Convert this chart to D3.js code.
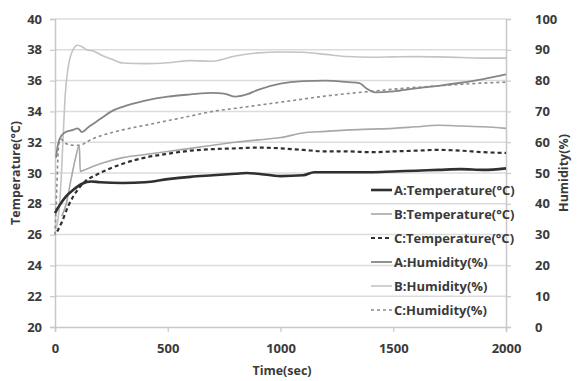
<!DOCTYPE html>
<html><head><meta charset="utf-8">
<script src="https://cdn.jsdelivr.net/npm/d3@7"></script>
<style>body{margin:0;background:#fff}svg{display:block}text{font-family:"Open Sans",Lato,sans-serif;font-weight:700;fill:#3a3a3a}</style>
</head><body><svg id="c" width="578" height="381"></svg>
<script>
// time (sec), value pairs
const aTempT = [0,20,50,80,120,160,200,300,400,500,600,700,800,850,900,1000,1100,1150,1300,1400,1500,1600,1700,1800,1900,2000];
const aTempV = [27.4,27.9,28.5,28.9,29.3,29.45,29.4,29.35,29.4,29.6,29.75,29.85,29.95,30.0,29.95,29.8,29.85,30.05,30.05,30.05,30.1,30.15,30.2,30.25,30.2,30.3];
const bTempT = [30,50,70,90,108,112,130,200,300,400,500,600,700,800,900,1000,1100,1200,1300,1400,1500,1600,1700,1800,1900,2000];
const bTempV = [27.2,28.0,29.5,30.9,31.8,30.1,30.2,30.6,31.0,31.2,31.4,31.6,31.8,32.0,32.15,32.3,32.6,32.7,32.8,32.85,32.9,33.0,33.1,33.05,33.0,32.9];
const cTempT = [10,30,60,100,130,200,300,400,500,600,700,800,900,1000,1100,1200,1300,1400,1500,1600,1700,1800,1900,2000];
const cTempV = [26.2,26.8,27.9,28.9,29.4,30.0,30.6,31.0,31.25,31.45,31.55,31.6,31.65,31.6,31.5,31.4,31.4,31.35,31.4,31.45,31.5,31.45,31.35,31.3];
const aHumT = [5,10,20,40,80,100,120,150,200,250,300,400,500,600,700,750,800,850,900,1000,1100,1200,1300,1350,1380,1420,1500,1600,1700,1800,1900,2000];
const aHumV = [55,58,61,63,64,64.5,63.3,65,67.5,70,71.5,73.5,74.8,75.5,76,75.8,74.8,75.5,77,79,79.8,80,79.5,79.2,77.5,76.2,76.5,77.5,78.3,79.3,80.5,82];
const bHumT = [5,15,25,35,45,60,80,100,120,140,170,200,250,300,400,500,600,700,800,900,1000,1100,1200,1300,1400,1500,1600,1700,1800,1900,2000];
const bHumV = [32,36,45,60,75,85,90,91.5,91,90,89.6,88.5,87,85.7,85.5,85.8,86.5,86.3,88,89,89.3,89.2,88.5,87.8,87.6,87.7,87.8,87.7,87.5,87.3,87.3];
const cHumT = [0,8,15,25,50,80,110,150,200,300,400,500,600,700,800,900,1000,1100,1200,1300,1400,1500,1600,1700,1800,1900,2000];
const cHumV = [30,45,58,61,59.5,59,59,60.5,62,64,65.5,67,68.5,70,71,72,73,74,75,75.8,76.5,77.2,77.8,78.3,78.8,79.2,79.5];

const xTicks = [0,500,1000,1500,2000];
const tempTicks = [20,22,24,26,28,30,32,34,36,38,40];
const humTicks = [0,10,20,30,40,50,60,70,80,90,100];
const legendLabels = ["A:Temperature(°C)","B:Temperature(°C)","C:Temperature(°C)","A:Humidity(%)","B:Humidity(%)","C:Humidity(%)"];

const svg = d3.select("#c");
const x = d3.scaleLinear().domain([0,2000]).range([55,506]);
const yT = d3.scaleLinear().domain([20,40]).range([327,19]);
const yH = d3.scaleLinear().domain([0,100]).range([327,19]);

// grid
svg.append("g").selectAll("line").data(tempTicks.slice(1)).join("line")
  .attr("x1",55).attr("x2",506).attr("y1",d=>yT(d)).attr("y2",d=>yT(d))
  .attr("stroke","#dcdcdc").attr("stroke-width",1.5);

// axes
const gl = svg.append("g").attr("transform","translate(55,0)")
  .call(d3.axisLeft(yT).tickValues(tempTicks).tickSize(5).tickPadding(8));
const gr = svg.append("g").attr("transform","translate(506,0)")
  .call(d3.axisRight(yH).tickValues(humTicks).tickSize(5).tickPadding(24));
const gb = svg.append("g").attr("transform","translate(0,327)")
  .call(d3.axisBottom(x).tickValues(xTicks).tickFormat(d3.format("d")).tickSize(5).tickPadding(12));
[gl,gr,gb].forEach(g=>{
  g.select(".domain").attr("stroke","#c8c8c8").attr("stroke-width",1.5);
  g.selectAll(".tick line").attr("stroke","#c8c8c8").attr("stroke-width",1.2);
  g.selectAll(".tick text").style("font-size","13px").style("font-family","'Open Sans',sans-serif").style("font-weight","700").attr("fill","#3a3a3a");
});

svg.append("text").attr("transform","translate(20,173) rotate(-90)").attr("text-anchor","middle").style("font-size","12.5px").text("Temperature(°C)");
svg.append("text").attr("transform","translate(568,173) rotate(-90)").attr("text-anchor","middle").style("font-size","12.5px").text("Humidity(%)");
svg.append("text").attr("x",282).attr("y",375).attr("text-anchor","middle").style("font-size","12.5px").text("Time(sec)");

const series = [
  {t:aTempT,v:aTempV,y:yT,color:"#303030",w:2.6,dash:null},
  {t:bTempT,v:bTempV,y:yT,color:"#a8a8a8",w:1.6,dash:null},
  {t:cTempT,v:cTempV,y:yT,color:"#303030",w:2.2,dash:"4,3"},
  {t:aHumT,v:aHumV,y:yH,color:"#858585",w:1.8,dash:null},
  {t:bHumT,v:bHumV,y:yH,color:"#c4c4c4",w:1.6,dash:null},
  {t:cHumT,v:cHumV,y:yH,color:"#8a8a8a",w:1.6,dash:"3,3"}
];
const drawOrder = [4,3,5,1,2,0];
drawOrder.forEach(i=>{
  const s = series[i];
  const pts = s.t.map((t,j)=>[t,s.v[j]]);
  const line = d3.line().x(d=>x(d[0])).y(d=>s.y(d[1])).curve(d3.curveMonotoneX);
  svg.append("path").attr("d",line(pts)).attr("fill","none").attr("stroke",s.color)
    .attr("stroke-width",s.w).attr("stroke-dasharray",s.dash).attr("stroke-linejoin","round");
});

// legend
const lg = svg.append("g");
legendLabels.forEach((lab,i)=>{
  const yy = 190 + i*24;
  const s = series[i];
  lg.append("line").attr("x1",371).attr("x2",392).attr("y1",yy).attr("y2",yy)
    .attr("stroke",s.color).attr("stroke-width",s.w).attr("stroke-dasharray",s.dash);
  lg.append("text").attr("x",394).attr("y",yy+4.5).style("font-size","13px").text(lab);
});
</script></body></html>
